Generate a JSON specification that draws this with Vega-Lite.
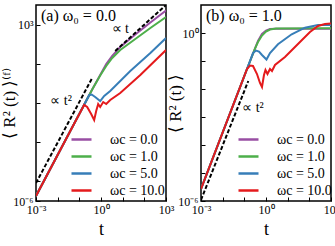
{
  "$schema": "https://vega.github.io/schema/vega-lite/v6.json",
  "padding": {"left": 0, "top": 4, "right": 4, "bottom": 0},
  "spacing": 35,
  "bounds": "flush",
  "background": "white",
  "config": {
    "font": "Liberation Serif",
    "view": {"stroke": "black", "strokeWidth": 1.5},
    "axis": {
      "domain": false, "grid": false, "tickColor": "black", "tickWidth": 1, "tickSize": -4,
      "labelFont": "Liberation Serif", "labelFontSize": 12, "labelColor": "black", "labelPadding": 7,
      "labelFlush": false, "labelOverlap": false,
      "titleFont": "Liberation Serif", "titleFontSize": 17, "titleFontWeight": "normal", "titleColor": "black"
    },
    "legend": {
      "orient": "none", "symbolType": "stroke", "symbolStrokeWidth": 2.5, "symbolSize": 400,
      "labelFont": "Liberation Serif", "labelFontSize": 14, "labelColor": "black", "labelOffset": 17,
      "clipHeight": 17, "rowPadding": 0, "padding": 0
    }
  },
  "resolve": {"scale": {"x": "independent", "y": "independent", "color": "independent"}, "legend": {"color": "independent"}},
  "hconcat": [
    {
      "width": 130, "height": 196,
      "encoding": {
        "x": {"field": "t", "type": "quantitative", "scale": {"type": "log", "domain": [0.001, 1000]},
              "axis": {"values": [0.001, 0.01, 0.1, 1, 10, 100, 1000], "title": "t", "titleFontSize": 18, "titlePadding": 5,
                       "labelExpr": "round(log(datum.value)/LN10) == -3 ? '10⁻³' : round(log(datum.value)/LN10) == 0 ? '10⁰' : round(log(datum.value)/LN10) == 3 ? '10³' : ''"}},
        "y": {"field": "R", "type": "quantitative", "scale": {"type": "log", "domain": [1e-6, 10000]},
              "axis": {"values": [1e-6, 1e-5, 0.001, 0.1, 10, 1000], "title": "⟨ R² (t) ⟩⁽ᶠ⁾", "titlePadding": -6,
                       "labelExpr": "round(log(datum.value)/LN10) == -6 ? '10⁻⁶' : round(log(datum.value)/LN10) == 3 ? '10³' : ''"}}
      },
      "layer": [
        {
          "data": {"values": [
            {"k": "ωc = 0.0", "t": 0.001, "R": 1.8e-6}, {"k": "ωc = 0.0", "t": 0.0574, "R": 0.00871}, {"k": "ωc = 0.0", "t": 0.392, "R": 0.489}, {"k": "ωc = 0.0", "t": 0.918, "R": 2.68}, {"k": "ωc = 0.0", "t": 1.742, "R": 9.77}, {"k": "ωc = 0.0", "t": 3.3, "R": 25.0}, {"k": "ωc = 0.0", "t": 7.74, "R": 71.9}, {"k": "ωc = 0.0", "t": 38.3, "R": 313}, {"k": "ωc = 0.0", "t": 190, "R": 1279}, {"k": "ωc = 0.0", "t": 1000, "R": 5236},
            {"k": "ωc = 1.0", "t": 0.001, "R": 1.8e-6}, {"k": "ωc = 1.0", "t": 0.0574, "R": 0.00871}, {"k": "ωc = 1.0", "t": 0.392, "R": 0.489}, {"k": "ωc = 1.0", "t": 0.918, "R": 2.53}, {"k": "ωc = 1.0", "t": 1.742, "R": 7.73}, {"k": "ωc = 1.0", "t": 3.3, "R": 19.8}, {"k": "ωc = 1.0", "t": 7.74, "R": 50.6}, {"k": "ωc = 1.0", "t": 38.3, "R": 184}, {"k": "ωc = 1.0", "t": 190, "R": 671}, {"k": "ωc = 1.0", "t": 1000, "R": 2443},
            {"k": "ωc = 5.0", "t": 0.001, "R": 1.8e-6}, {"k": "ωc = 5.0", "t": 0.0574, "R": 0.00871}, {"k": "ωc = 5.0", "t": 0.167, "R": 0.0818}, {"k": "ωc = 5.0", "t": 0.284, "R": 0.25}, {"k": "ωc = 5.0", "t": 0.371, "R": 0.272}, {"k": "ωc = 5.0", "t": 0.538, "R": 0.202}, {"k": "ωc = 5.0", "t": 0.918, "R": 0.126}, {"k": "ωc = 5.0", "t": 1.406, "R": 0.228}, {"k": "ωc = 5.0", "t": 2.667, "R": 0.409}, {"k": "ωc = 5.0", "t": 22.5, "R": 4.3}, {"k": "ωc = 5.0", "t": 190, "R": 35.6}, {"k": "ωc = 5.0", "t": 1000, "R": 207},
            {"k": "ωc = 10.0", "t": 0.001, "R": 1.8e-6}, {"k": "ωc = 10.0", "t": 0.0574, "R": 0.00871}, {"k": "ωc = 10.0", "t": 0.109, "R": 0.0327}, {"k": "ωc = 10.0", "t": 0.167, "R": 0.0791}, {"k": "ωc = 10.0", "t": 0.23, "R": 0.0625}, {"k": "ωc = 10.0", "t": 0.352, "R": 0.0275}, {"k": "ωc = 10.0", "t": 0.484, "R": 0.0136}, {"k": "ωc = 10.0", "t": 0.6, "R": 0.0391}, {"k": "ωc = 10.0", "t": 0.741, "R": 0.0889}, {"k": "ωc = 10.0", "t": 0.918, "R": 0.0625}, {"k": "ωc = 10.0", "t": 1.265, "R": 0.112}, {"k": "ωc = 10.0", "t": 1.742, "R": 0.0889}, {"k": "ωc = 10.0", "t": 2.667, "R": 0.142}, {"k": "ωc = 10.0", "t": 7.74, "R": 0.324}, {"k": "ωc = 10.0", "t": 65.3, "R": 2.68}, {"k": "ωc = 10.0", "t": 1000, "R": 50.6}
          ]},
          "mark": {"type": "line", "strokeWidth": 2, "clip": true},
          "encoding": {
            "color": {"field": "k", "type": "nominal", "sort": null,
                      "scale": {"domain": ["ωc = 0.0", "ωc = 1.0", "ωc = 5.0", "ωc = 10.0"], "range": ["#984ea3", "#4daf4a", "#377eb8", "#e41a1c"]},
                      "legend": {"title": null, "legendX": 34, "legendY": 126}}
          }
        },
        {
          "data": {"values": [
            {"g": "a", "t": 0.001, "R": 8.28e-6}, {"g": "a", "t": 0.392, "R": 1.89},
            {"g": "b", "t": 4.54, "R": 45.0}, {"g": "b", "t": 1000, "R": 10000}
          ]},
          "mark": {"type": "line", "color": "black", "strokeWidth": 2, "strokeDash": [4, 2], "clip": true},
          "encoding": {"detail": {"field": "g"}}
        },
        {
          "data": {"values": [
            {"t": 0.0144, "R": 0.126, "txt": "∝ t²"}, {"t": 7.74, "R": 597, "txt": "∝ t"}
          ]},
          "mark": {"type": "text", "fontSize": 14, "font": "Liberation Serif", "color": "black"},
          "encoding": {"text": {"field": "txt"}}
        },
        {
          "data": {"values": [{"t": 0.0017, "R": 2748, "txt": "(a) ω₀ = 0.0"}]},
          "mark": {"type": "text", "fontSize": 16, "font": "Liberation Serif", "color": "black", "align": "left"},
          "encoding": {"text": {"field": "txt"}}
        }
      ]
    },
    {
      "width": 130, "height": 196,
      "encoding": {
        "x": {"field": "t", "type": "quantitative", "scale": {"type": "log", "domain": [0.001, 1000]},
              "axis": {"values": [0.001, 0.01, 0.1, 1, 10, 100, 1000], "title": "t", "titleFontSize": 18, "titlePadding": 5,
                       "labelExpr": "round(log(datum.value)/LN10) == -3 ? '10⁻³' : round(log(datum.value)/LN10) == 0 ? '10⁰' : round(log(datum.value)/LN10) == 3 ? '10³' : ''"}},
        "y": {"field": "R", "type": "quantitative", "scale": {"type": "log", "domain": [1e-6, 10]},
              "axis": {"values": [1e-6, 1e-5, 1e-4, 0.001, 0.01, 0.1, 1], "title": "⟨ R² (t) ⟩", "titlePadding": -7,
                       "labelExpr": "round(log(datum.value)/LN10) == -6 ? '10⁻⁶' : round(log(datum.value)/LN10) == 0 ? '10⁰' : ''"}}
      },
      "layer": [
        {
          "data": {"values": [
            {"k": "ωc = 0.0", "t": 0.001, "R": 2.68e-6}, {"k": "ωc = 0.0", "t": 0.133, "R": 0.0518}, {"k": "ωc = 0.0", "t": 0.31, "R": 0.277}, {"k": "ωc = 0.0", "t": 0.427, "R": 0.518}, {"k": "ωc = 0.0", "t": 0.653, "R": 0.921}, {"k": "ωc = 0.0", "t": 1.0, "R": 1.228}, {"k": "ωc = 0.0", "t": 1.53, "R": 1.39}, {"k": "ωc = 0.0", "t": 2.89, "R": 1.427}, {"k": "ωc = 0.0", "t": 1000, "R": 1.427},
            {"k": "ωc = 1.0", "t": 0.001, "R": 2.68e-6}, {"k": "ωc = 1.0", "t": 0.133, "R": 0.0518}, {"k": "ωc = 1.0", "t": 0.31, "R": 0.277}, {"k": "ωc = 1.0", "t": 0.427, "R": 0.477}, {"k": "ωc = 1.0", "t": 0.653, "R": 0.814}, {"k": "ωc = 1.0", "t": 1.0, "R": 1.132}, {"k": "ωc = 1.0", "t": 1.53, "R": 1.334}, {"k": "ωc = 1.0", "t": 2.89, "R": 1.448}, {"k": "ωc = 1.0", "t": 1000, "R": 1.483},
            {"k": "ωc = 5.0", "t": 0.001, "R": 2.68e-6}, {"k": "ωc = 5.0", "t": 0.133, "R": 0.0518}, {"k": "ωc = 5.0", "t": 0.251, "R": 0.193}, {"k": "ωc = 5.0", "t": 0.345, "R": 0.237}, {"k": "ωc = 5.0", "t": 0.475, "R": 0.218}, {"k": "ωc = 5.0", "t": 0.653, "R": 0.164}, {"k": "ωc = 5.0", "t": 1.054, "R": 0.113}, {"k": "ωc = 5.0", "t": 1.53, "R": 0.193}, {"k": "ωc = 5.0", "t": 3.57, "R": 0.395}, {"k": "ωc = 5.0", "t": 15.3, "R": 0.9}, {"k": "ωc = 5.0", "t": 63, "R": 1.546}, {"k": "ωc = 5.0", "t": 251, "R": 1.93}, {"k": "ωc = 5.0", "t": 1000, "R": 1.93},
            {"k": "ωc = 10.0", "t": 0.001, "R": 2.68e-6}, {"k": "ωc = 10.0", "t": 0.133, "R": 0.0518}, {"k": "ωc = 10.0", "t": 0.182, "R": 0.069}, {"k": "ωc = 10.0", "t": 0.251, "R": 0.0663}, {"k": "ωc = 10.0", "t": 0.384, "R": 0.0343}, {"k": "ωc = 10.0", "t": 0.528, "R": 0.0164}, {"k": "ωc = 10.0", "t": 0.653, "R": 0.0118}, {"k": "ωc = 10.0", "t": 0.807, "R": 0.0316}, {"k": "ωc = 10.0", "t": 0.946, "R": 0.0477}, {"k": "ωc = 10.0", "t": 1.17, "R": 0.0343}, {"k": "ωc = 10.0", "t": 1.53, "R": 0.0518}, {"k": "ωc = 10.0", "t": 1.89, "R": 0.044}, {"k": "ωc = 10.0", "t": 2.6, "R": 0.072}, {"k": "ωc = 10.0", "t": 7.52, "R": 0.139}, {"k": "ωc = 10.0", "t": 29.9, "R": 0.405}, {"k": "ωc = 10.0", "t": 107, "R": 1.086}, {"k": "ωc = 10.0", "t": 251, "R": 1.778}, {"k": "ωc = 10.0", "t": 527, "R": 2.1}, {"k": "ωc = 10.0", "t": 1000, "R": 2.18}
          ]},
          "mark": {"type": "line", "strokeWidth": 2, "clip": true},
          "encoding": {
            "color": {"field": "k", "type": "nominal", "sort": null,
                      "scale": {"domain": ["ωc = 0.0", "ωc = 1.0", "ωc = 5.0", "ωc = 10.0"], "range": ["#984ea3", "#4daf4a", "#377eb8", "#e41a1c"]},
                      "legend": {"title": null, "legendX": 36, "legendY": 126}}
          }
        },
        {
          "data": {"values": [
            {"g": "a", "t": 0.001, "R": 1.09e-6}, {"g": "a", "t": 0.152, "R": 0.0193}
          ]},
          "mark": {"type": "line", "color": "black", "strokeWidth": 2, "strokeDash": [4, 2], "clip": true},
          "encoding": {"detail": {"field": "g"}}
        },
        {
          "data": {"values": [{"t": 0.251, "R": 0.0021, "txt": "∝ t²"}]},
          "mark": {"type": "text", "fontSize": 14, "font": "Liberation Serif", "color": "black"},
          "encoding": {"text": {"field": "txt"}}
        },
        {
          "data": {"values": [{"t": 0.0017, "R": 4.05, "txt": "(b) ω₀ = 1.0"}]},
          "mark": {"type": "text", "fontSize": 16, "font": "Liberation Serif", "color": "black", "align": "left"},
          "encoding": {"text": {"field": "txt"}}
        }
      ]
    }
  ]
}
